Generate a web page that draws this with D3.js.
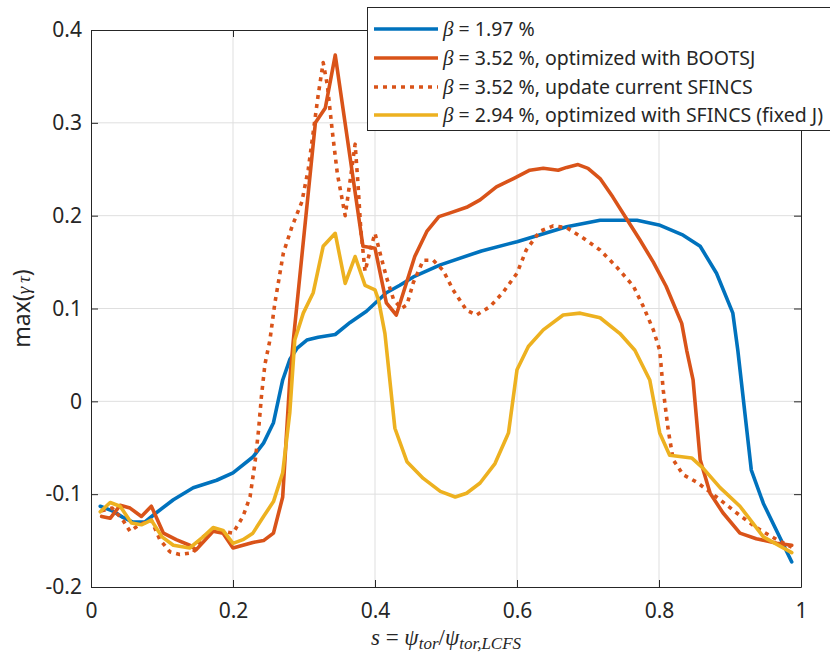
<!DOCTYPE html>
<html>
<head>
<meta charset="utf-8">
<script src="https://cdn.jsdelivr.net/npm/d3@7"></script>
<style>
  html, body { margin: 0; padding: 0; background: #fff; }
  svg { display: block; }
</style>
</head>
<body>
<svg id="chart" width="830" height="659"></svg>
<script>
// Normalised toroidal flux s and max growth rate for each configuration
const sBlue = [0.013,0.03,0.045,0.059,0.076,0.092,0.116,0.144,0.177,0.2,0.228,0.243,0.257,0.27,0.28,0.29,0.304,0.32,0.344,0.365,0.388,0.416,0.435,0.454,0.492,0.55,0.6,0.67,0.717,0.769,0.8,0.834,0.858,0.881,0.904,0.911,0.93,0.947,0.987];
const vBlue = [-0.113,-0.118,-0.125,-0.13,-0.13,-0.12,-0.106,-0.093,-0.085,-0.077,-0.06,-0.045,-0.023,0.023,0.045,0.057,0.066,0.069,0.072,0.085,0.097,0.117,0.125,0.134,0.147,0.162,0.172,0.188,0.195,0.195,0.19,0.179,0.167,0.138,0.095,0.055,-0.074,-0.11,-0.173];

const sBoot = [0.015,0.027,0.041,0.055,0.071,0.085,0.102,0.12,0.139,0.148,0.172,0.186,0.2,0.214,0.228,0.243,0.257,0.27,0.28,0.285,0.316,0.33,0.344,0.383,0.4,0.416,0.43,0.456,0.473,0.49,0.506,0.529,0.548,0.571,0.595,0.618,0.637,0.658,0.67,0.686,0.7,0.717,0.735,0.754,0.773,0.792,0.81,0.832,0.839,0.848,0.858,0.872,0.89,0.914,0.937,0.966,0.987];
const vBoot = [-0.124,-0.126,-0.112,-0.115,-0.124,-0.113,-0.142,-0.149,-0.155,-0.16,-0.14,-0.142,-0.158,-0.155,-0.152,-0.15,-0.142,-0.103,0.023,0.066,0.3,0.316,0.373,0.167,0.165,0.106,0.093,0.156,0.183,0.199,0.203,0.209,0.217,0.231,0.24,0.249,0.251,0.249,0.252,0.255,0.251,0.24,0.22,0.197,0.174,0.15,0.124,0.084,0.055,0.023,-0.063,-0.099,-0.12,-0.142,-0.148,-0.153,-0.155];

const sSfincs = [0.015,0.03,0.045,0.055,0.068,0.085,0.097,0.111,0.125,0.144,0.158,0.172,0.186,0.2,0.214,0.224,0.231,0.236,0.24,0.245,0.252,0.259,0.271,0.283,0.297,0.306,0.313,0.32,0.327,0.333,0.34,0.347,0.358,0.365,0.372,0.376,0.38,0.386,0.394,0.4,0.407,0.416,0.426,0.437,0.445,0.454,0.468,0.482,0.496,0.51,0.529,0.543,0.562,0.58,0.6,0.613,0.632,0.651,0.67,0.693,0.717,0.74,0.764,0.778,0.792,0.801,0.806,0.813,0.82,0.834,0.853,0.881,0.909,0.937,0.966,0.987];
const vSfincs = [-0.118,-0.115,-0.128,-0.14,-0.133,-0.128,-0.149,-0.162,-0.165,-0.163,-0.146,-0.139,-0.14,-0.142,-0.124,-0.103,-0.066,-0.031,0.005,0.04,0.066,0.106,0.16,0.188,0.215,0.25,0.29,0.33,0.365,0.34,0.29,0.245,0.2,0.238,0.277,0.235,0.185,0.14,0.165,0.181,0.16,0.134,0.11,0.1,0.104,0.128,0.152,0.152,0.141,0.12,0.098,0.093,0.102,0.117,0.138,0.163,0.183,0.189,0.187,0.176,0.163,0.145,0.124,0.102,0.077,0.055,0.012,-0.031,-0.063,-0.079,-0.087,-0.103,-0.12,-0.136,-0.149,-0.157];

const sFixed = [0.013,0.027,0.041,0.057,0.071,0.085,0.1,0.116,0.139,0.158,0.172,0.186,0.2,0.214,0.228,0.243,0.257,0.27,0.28,0.287,0.299,0.313,0.327,0.344,0.358,0.372,0.386,0.4,0.405,0.414,0.428,0.445,0.468,0.492,0.513,0.529,0.548,0.569,0.588,0.6,0.616,0.637,0.665,0.689,0.717,0.745,0.766,0.787,0.801,0.815,0.846,0.862,0.886,0.914,0.947,0.987];
const vFixed = [-0.119,-0.109,-0.113,-0.131,-0.133,-0.128,-0.146,-0.155,-0.158,-0.146,-0.136,-0.139,-0.153,-0.149,-0.142,-0.124,-0.108,-0.077,-0.012,0.066,0.095,0.117,0.167,0.181,0.127,0.156,0.125,0.12,0.109,0.073,-0.029,-0.065,-0.083,-0.097,-0.103,-0.099,-0.088,-0.067,-0.034,0.034,0.059,0.077,0.093,0.095,0.09,0.073,0.055,0.023,-0.034,-0.058,-0.061,-0.072,-0.093,-0.113,-0.146,-0.163];

const xTicks = [0, 0.2, 0.4, 0.6, 0.8, 1];
const yTicks = [-0.2, -0.1, 0, 0.1, 0.2, 0.3, 0.4];
const xTickLabels = ["0", "0.2", "0.4", "0.6", "0.8", "1"];
const yTickLabels = ["-0.2", "-0.1", "0", "0.1", "0.2", "0.3", "0.4"];

const legendBetas = ["1.97", "3.52", "3.52", "2.94"];
const legendNotes = ["", ", optimized with BOOTSJ", ", update current SFINCS", ", optimized with SFINCS (fixed J)"];

const series = [
  { s: sBlue,   v: vBlue,   color: "#0072BD", dash: null },
  { s: sBoot,   v: vBoot,   color: "#D95319", dash: null },
  { s: sSfincs, v: vSfincs, color: "#D95319", dash: "4,5" },
  { s: sFixed,  v: vFixed,  color: "#EDB120", dash: null }
];

const svg = d3.select("#chart");
const plotLeft = 91, plotRight = 801, plotTop = 30, plotBottom = 587;
const x = d3.scaleLinear().domain([0, 1]).range([plotLeft, plotRight]);
const y = d3.scaleLinear().domain([-0.2, 0.4]).range([plotBottom, plotTop]);
const sans = "'Noto Sans', 'Open Sans', sans-serif";
const serif = "'Liberation Serif', 'DejaVu Serif', serif";
const axisColor = "#262626";

// grid
const grid = svg.append("g");
grid.selectAll("line.gx").data(xTicks.slice(1, -1)).join("line")
  .attr("x1", d => x(d)).attr("x2", d => x(d))
  .attr("y1", plotTop).attr("y2", plotBottom)
  .attr("stroke", "#dfdfdf").attr("stroke-width", 1);
grid.selectAll("line.gy").data(yTicks.slice(1, -1)).join("line")
  .attr("x1", plotLeft).attr("x2", plotRight)
  .attr("y1", d => y(d)).attr("y2", d => y(d))
  .attr("stroke", "#dfdfdf").attr("stroke-width", 1);

// curves
const plot = svg.append("g");
series.forEach(ser => {
  const pts = ser.s.map((s, i) => [s, ser.v[i]]);
  plot.append("path")
    .datum(pts)
    .attr("fill", "none")
    .attr("stroke", ser.color)
    .attr("stroke-width", 3.6)
    .attr("stroke-linejoin", "round")
    .attr("stroke-linecap", ser.dash ? "butt" : "round")
    .attr("stroke-dasharray", ser.dash)
    .attr("d", d3.line().x(d => x(d[0])).y(d => y(d[1])));
});

// axes with inward ticks on all four sides
const tickLen = 7;
const axB = svg.append("g").attr("transform", `translate(0,${plotBottom})`)
  .call(d3.axisBottom(x).tickValues(xTicks).tickFormat((d, i) => xTickLabels[i]).tickSizeInner(-tickLen).tickSizeOuter(0).tickPadding(16));
const axT = svg.append("g").attr("transform", `translate(0,${plotTop})`)
  .call(d3.axisTop(x).tickValues(xTicks).tickFormat("").tickSizeInner(-tickLen).tickSizeOuter(0));
const axL = svg.append("g").attr("transform", `translate(${plotLeft},0)`)
  .call(d3.axisLeft(y).tickValues(yTicks).tickFormat((d, i) => yTickLabels[i]).tickSizeInner(-tickLen).tickSizeOuter(0).tickPadding(9));
const axR = svg.append("g").attr("transform", `translate(${plotRight},0)`)
  .call(d3.axisRight(y).tickValues(yTicks).tickFormat("").tickSizeInner(-tickLen).tickSizeOuter(0));
[axB, axT, axL, axR].forEach(g => {
  g.select(".domain").attr("stroke", axisColor).attr("stroke-width", 1);
  g.selectAll(".tick line").attr("stroke", axisColor).attr("stroke-width", 1);
  g.selectAll("text").attr("fill", axisColor).style("font-family", sans).style("font-size", "21px");
});

// axis labels
const xl = svg.append("text")
  .attr("x", (plotLeft + plotRight) / 2).attr("y", 645)
  .attr("text-anchor", "middle")
  .attr("fill", axisColor)
  .style("font-family", serif).style("font-size", "23px");
xl.append("tspan").style("font-style", "italic").text("s");
xl.append("tspan").text(" = ");
xl.append("tspan").style("font-style", "italic").text("ψ");
xl.append("tspan").style("font-style", "italic").style("font-size", "17px").attr("dy", 4).text("tor");
xl.append("tspan").attr("dy", -4).text("/");
xl.append("tspan").style("font-style", "italic").text("ψ");
xl.append("tspan").style("font-style", "italic").style("font-size", "17px").attr("dy", 4).text("tor,LCFS");

const yl = svg.append("text")
  .attr("transform", `translate(30,${(plotTop + plotBottom) / 2}) rotate(-90)`)
  .attr("text-anchor", "middle")
  .attr("fill", axisColor)
  .style("font-family", sans).style("font-size", "23px");
yl.append("tspan").text("max(");
yl.append("tspan").style("font-family", serif).style("font-style", "italic").style("font-size", "19px").text("γ\u2009τ");
yl.append("tspan").text(")");

// legend
const lg = svg.append("g");
lg.append("rect").attr("x", 367.5).attr("y", 7.5).attr("width", 470).attr("height", 123)
  .attr("fill", "#fff").attr("stroke", "#262626").attr("stroke-width", 1);
const rowY = [29, 58, 87, 115];
series.forEach((ser, i) => {
  lg.append("line")
    .attr("x1", 374).attr("x2", 438).attr("y1", rowY[i]).attr("y2", rowY[i])
    .attr("stroke", ser.color).attr("stroke-width", 3.6)
    .attr("stroke-dasharray", ser.dash);
  const t = lg.append("text").attr("x", 443).attr("y", rowY[i] + 7)
    .attr("fill", axisColor).style("font-family", sans).style("font-size", "19.5px");
  t.append("tspan").style("font-family", serif).style("font-style", "italic").style("font-size", "21px").text("β");
  t.append("tspan").text(` = ${legendBetas[i]} %${legendNotes[i]}`);
});
</script>
</body>
</html>
